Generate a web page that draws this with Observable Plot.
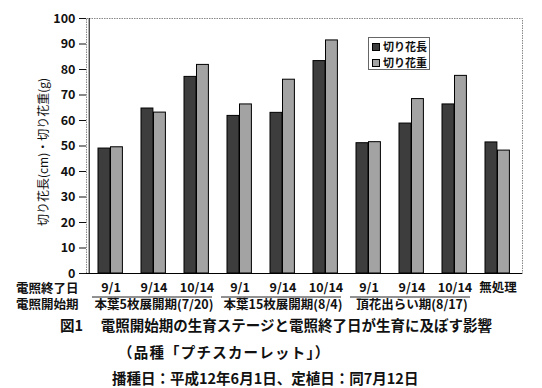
<!DOCTYPE html>
<html><head><meta charset="utf-8">
<script src="https://cdn.jsdelivr.net/npm/d3@7"></script>
<script src="https://cdn.jsdelivr.net/npm/@observablehq/plot@0.6"></script>
<style>
body{margin:0;background:#fff;font-family:"Noto Sans CJK JP",sans-serif;}
#wrap{position:relative;width:542px;}
#legend{position:absolute;left:368px;top:37px;width:62px;height:33px;border:1px solid #666;background:#fff;font-size:11px;font-weight:bold;color:#111;box-sizing:border-box;padding:1px 0 0 3px;line-height:15.5px;white-space:nowrap;}
#legend .sw{display:inline-block;width:6px;height:6px;border:1px solid #000;margin-right:3px;vertical-align:0px;}
.cap{font-size:14.5px;font-weight:bold;color:#111;white-space:nowrap;}
</style></head><body>
<div id="wrap"></div>
<script>
const endDates = ["9/1","9/14","10/14","9/1","9/14","10/14","9/1","9/14","10/14","無処理"];
const startStages = ["本葉5枚展開期(7/20)","本葉15枚展開期(8/4)","頂花出らい期(8/17)"];
const stageSpans = [[0,2],[3,5],[6,8]];
const lengthVals = [49.0, 64.7, 77.1, 61.8, 63.0, 83.3, 51.1, 58.8, 66.3, 51.4];
const weightVals = [49.5, 63.1, 81.8, 66.3, 76.0, 91.4, 51.5, 68.4, 77.5, 48.2];
const seriesNames = ["切り花長","切り花重"];
const yTicks = [0,10,20,30,40,50,60,70,80,90,100];
const yLabel = "切り花長(cm)・切り花重(g)";
const colors = ["#3d3d3d","#a3a3a3"];

const idx = d3.range(endDates.length);
const lenData = idx.map(i => ({i, v: lengthVals[i]}));
const wtData = idx.map(i => ({i, v: weightVals[i]}));
const stageData = startStages.map((s, k) => ({label: s, a: stageSpans[k][0], b: stageSpans[k][1], mid: (stageSpans[k][0] + stageSpans[k][1]) / 2}));

const font = '"Noto Sans CJK JP", sans-serif';
const chart = Plot.plot({
  width: 542, height: 314,
  marginTop: 18, marginBottom: 41, marginLeft: 86, marginRight: 20,
  style: {fontFamily: font, fontSize: "12.5px", fontWeight: "bold", color: "#111", background: "#fff"},
  x: {type: "band", domain: idx, padding: 0, axis: null},
  y: {domain: [0, 100], axis: null},
  marks: [
    Plot.frame({stroke: "#888", strokeDasharray: "1.5,1"}),
    Plot.barY(lenData, {x: "i", y: "v", fill: colors[0], stroke: "#000", strokeWidth: 1, insetLeft: 9, insetRight: 22.1}),
    Plot.barY(wtData, {x: "i", y: "v", fill: colors[1], stroke: "#000", strokeWidth: 1, insetLeft: 21.5, insetRight: 9.6}),
    Plot.ruleY([0], {stroke: "#000"}),
    Plot.ruleX([0], {x: () => 0, stroke: "#000", dx: -21.8}),
    Plot.axisY({ticks: yTicks, tickSize: 7, tickPadding: 4, fontSize: 12.5, label: null}),
    Plot.text([yLabel], {frameAnchor: "left", textAnchor: "middle", dx: -42, dy: 6, rotate: -90, fontSize: 12, fontWeight: "normal", lineAnchor: "middle"}),
    Plot.axisX({domain: idx, tickSize: 0, tickPadding: 10, fontSize: 12.5, tickFormat: i => endDates[i]}),
    Plot.ruleY(stageData, {x1: "a", x2: "b", y: () => 0, dy: 23.5, insetLeft: 3, insetRight: 6, stroke: "#222"}),
    Plot.text(stageData, {x: "mid", text: "label", frameAnchor: "bottom", dy: 31.5, fontSize: 12.5, lineAnchor: "middle"}),
    Plot.text(["電照終了日"], {frameAnchor: "bottom-left", dx: -8, dy: 15.5, textAnchor: "end", lineAnchor: "middle", fontSize: 12.5}),
    Plot.text(["電照開始期"], {frameAnchor: "bottom-left", dx: -8, dy: 31.5, textAnchor: "end", lineAnchor: "middle", fontSize: 12.5})
  ]
});
const wrap = document.getElementById("wrap");
wrap.appendChild(chart);

const legend = document.createElement("div");
legend.id = "legend";
legend.innerHTML = seriesNames.map((n, k) => `<div><span class="sw" style="background:${colors[k]}"></span>${n}</div>`).join("");
wrap.appendChild(legend);

const caps = [
  {t: "図1　 電照開始期の生育ステージと電照終了日が生育に及ぼす影響", pl: 60, lh: 22, ls: 0},
  {t: "（品種「プチスカーレット」）", pl: 118, lh: 32, ls: 1.2},
  {t: "播種日：平成12年6月1日、定植日：同7月12日", pl: 112, lh: 20, ls: 0}
];
for (const c of caps) {
  const d = document.createElement("div");
  d.className = "cap";
  d.style.paddingLeft = c.pl + "px";
  d.style.lineHeight = c.lh + "px";
  d.style.letterSpacing = c.ls + "px";
  d.textContent = c.t;
  wrap.appendChild(d);
}
</script>
</body></html>
